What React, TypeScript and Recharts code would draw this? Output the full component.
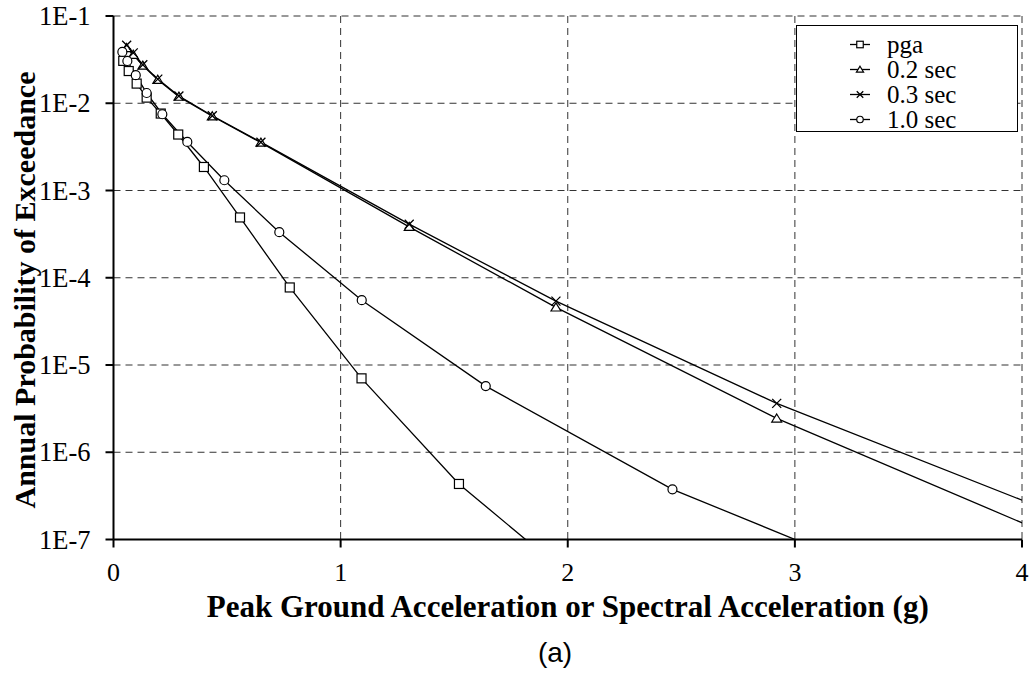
import { LineChart, Line, XAxis, YAxis, CartesianGrid, Legend, Label } from 'recharts'

// acceleration (g) and annual probability of exceedance for each period
const pgaG = [0.043, 0.067, 0.102, 0.146, 0.208, 0.285, 0.398, 0.557, 0.776, 1.092, 1.521, 2.13]
const pgaP = [0.0306, 0.0234, 0.0168, 0.0116, 0.00762, 0.00438, 0.00186, 4.91e-4, 7.74e-5, 7.03e-6, 4.33e-7, 2.07e-8]

const sa02G = [0.058, 0.087, 0.129, 0.195, 0.288, 0.435, 0.649, 1.302, 1.948, 2.92, 4.38]
const sa02P = [0.043, 0.036, 0.027, 0.0186, 0.0119, 0.0071, 0.00354, 3.83e-4, 4.57e-5, 2.44e-6, 5.9e-8]

const sa03G = [0.058, 0.087, 0.129, 0.195, 0.288, 0.435, 0.649, 1.302, 1.948, 2.92, 4.38]
const sa03P = [0.0462, 0.0378, 0.0276, 0.0189, 0.0121, 0.0072, 0.00358, 4.11e-4, 5.4e-5, 3.63e-6, 1.15e-7]

const sa10G = [0.039, 0.061, 0.098, 0.146, 0.215, 0.325, 0.488, 0.73, 1.093, 1.639, 2.461, 3.69]
const sa10P = [0.0387, 0.0305, 0.021, 0.0131, 0.00748, 0.0036, 0.00131, 3.33e-4, 5.53e-5, 5.73e-6, 3.76e-7, 1.84e-8]

const xTicks = [0, 1, 2, 3, 4]
const yTicks = [1e-7, 1e-6, 1e-5, 1e-4, 1e-3, 1e-2, 1e-1]

const toPoints = (g: number[], p: number[]) => g.map((v, i) => ({ g: v, p: p[i] }))

type Shape = 'square' | 'triangle' | 'cross' | 'circle'

const series: { name: string; shape: Shape; data: { g: number; p: number }[] }[] = [
  { name: 'pga', shape: 'square', data: toPoints(pgaG, pgaP) },
  { name: '0.2 sec', shape: 'triangle', data: toPoints(sa02G, sa02P) },
  { name: '0.3 sec', shape: 'cross', data: toPoints(sa03G, sa03P) },
  { name: '1.0 sec', shape: 'circle', data: toPoints(sa10G, sa10P) },
]

const W = 1031
const H = 673
const SERIF = '"Liberation Serif", "Times New Roman", serif'
const SANS = '"Liberation Sans", Arial, sans-serif'

function Marker({ shape, cx, cy, s }: { shape: Shape; cx: number; cy: number; s: number }) {
  const h = s / 2
  const common = { stroke: '#000', strokeWidth: 1.2, fill: '#fff' }
  if (shape === 'square') return <rect x={cx - h} y={cy - h} width={s} height={s} {...common} />
  if (shape === 'triangle')
    return <polygon points={`${cx},${cy - h} ${cx + h * 1.1},${cy + h * 0.8} ${cx - h * 1.1},${cy + h * 0.8}`} {...common} />
  if (shape === 'circle') return <circle cx={cx} cy={cy} r={h} {...common} />
  return (
    <path d={`M${cx - h},${cy - h}L${cx + h},${cy + h}M${cx - h},${cy + h}L${cx + h},${cy - h}`} stroke="#000" strokeWidth={1.3} fill="none" />
  )
}

const dotFor = (shape: Shape) => (props: any) => {
  const { cx, cy, index } = props
  if (cx == null || cy == null) return <g key={`${shape}-${index}`} />
  return (
    <g key={`${shape}-${index}`}>
      <Marker shape={shape} cx={cx} cy={cy} s={9} />
    </g>
  )
}

function YTick({ x, y, payload }: any) {
  const exp = Math.round(-Math.log10(payload.value))
  return (
    <text x={x} y={y} textAnchor="end" dominantBaseline="central" fontFamily={SERIF} fontSize={26.5} fill="#000">
      {`1E-${exp}`}
    </text>
  )
}

function XTick({ x, y, payload }: any) {
  return (
    <text x={x} y={y + 23} textAnchor="middle" dominantBaseline="central" fontFamily={SERIF} fontSize={26} fill="#000">
      {payload.value}
    </text>
  )
}

function XTitle({ viewBox }: any) {
  const cx = viewBox.x + viewBox.width / 2
  return (
    <text x={cx} y={viewBox.y + 77} textAnchor="middle" fontFamily={SERIF} fontWeight="bold" fontSize={31} fill="#000">
      Peak Ground Acceleration or Spectral Acceleration (g)
    </text>
  )
}

function YTitle() {
  return (
    <text transform="translate(24,290) rotate(-90)" textAnchor="middle" dominantBaseline="central" fontFamily={SERIF}
      fontWeight="bold" fontSize={30} fill="#000">
      Annual Probability of Exceedance
    </text>
  )
}

function LegendBox({ payload }: any) {
  const order = (v: string) => series.findIndex((d) => d.name === v)
  const items = [...(payload ?? [])].sort((a: any, b: any) => order(a.value) - order(b.value))
  return (
    <div style={{ width: 222, height: 107, boxSizing: 'border-box', border: '1px solid #000', background: '#fff', paddingTop: 6 }}>
      {items.map((entry: any) => {
        const s = series.find((d) => d.name === entry.value)
        return (
          <div key={entry.value} style={{ height: 25, position: 'relative' }}>
            <svg width={24} height={25} style={{ position: 'absolute', left: 51, top: 0 }}>
              <line x1={2} y1={12.5} x2={22} y2={12.5} stroke="#000" strokeWidth={1.3} />
              {s && <Marker shape={s.shape} cx={12} cy={12.5} s={6.5} />}
            </svg>
            <span
              style={{
                position: 'absolute', left: 90, top: 0, lineHeight: '25px', fontFamily: SERIF, fontSize: 25,
                whiteSpace: 'nowrap', color: '#000',
              }}
            >
              {entry.value}
            </span>
          </div>
        )
      })}
    </div>
  )
}

export default function App() {
  return (
    <div style={{ position: 'absolute', left: 0, top: 0, width: W, height: H, background: '#fff' }}>
      <LineChart width={W} height={H} margin={{ top: 16, right: 9, bottom: 0, left: 0 }}>
        <CartesianGrid stroke="#333" strokeDasharray="7 5" strokeWidth={1} />
        <XAxis
          type="number"
          dataKey="g"
          domain={[0, 4]}
          ticks={xTicks}
          allowDataOverflow
          height={133.5}
          tickSize={8}
          axisLine={{ stroke: '#000', strokeWidth: 2 }}
          tickLine={{ stroke: '#000', strokeWidth: 2 }}
          tick={<XTick />}
        >
          <Label content={<XTitle />} />
        </XAxis>
        <XAxis xAxisId="top" orientation="top" type="number" domain={[0, 4]} height={0} tick={false} tickLine={false}
          axisLine={{ stroke: '#000', strokeWidth: 1.5 }} />
        <YAxis
          type="number"
          scale="log"
          domain={[1e-7, 1e-1]}
          ticks={yTicks}
          allowDataOverflow
          width={113.5}
          tickSize={8}
          tickMargin={15}
          axisLine={{ stroke: '#000', strokeWidth: 2 }}
          tickLine={{ stroke: '#000', strokeWidth: 2 }}
          tick={<YTick />}
        >
          <Label content={<YTitle />} />
        </YAxis>
        <YAxis yAxisId="right" orientation="right" type="number" scale="log" domain={[1e-7, 1e-1]} width={0}
          tick={false} tickLine={false} axisLine={{ stroke: '#000', strokeWidth: 1.5 }} />
        <Legend
          layout="horizontal"
          verticalAlign="middle"
          align="center"
          wrapperStyle={{ left: 796, top: 25, width: 222, height: 107 }}
          content={<LegendBox />}
        />
        {series.map((s) => (
          <Line
            key={s.name}
            name={s.name}
            data={s.data}
            dataKey="p"
            type="linear"
            stroke="#000"
            strokeWidth={1.3}
            dot={dotFor(s.shape)}
            activeDot={false}
            isAnimationActive={false}
          />
        ))}
      </LineChart>
      <div
        style={{
          position: 'absolute', left: 555, top: 653, transform: 'translate(-50%,-50%)',
          fontFamily: SANS, fontSize: 28, color: '#000', whiteSpace: 'nowrap',
        }}
      >
        (a)
      </div>
    </div>
  )
}
